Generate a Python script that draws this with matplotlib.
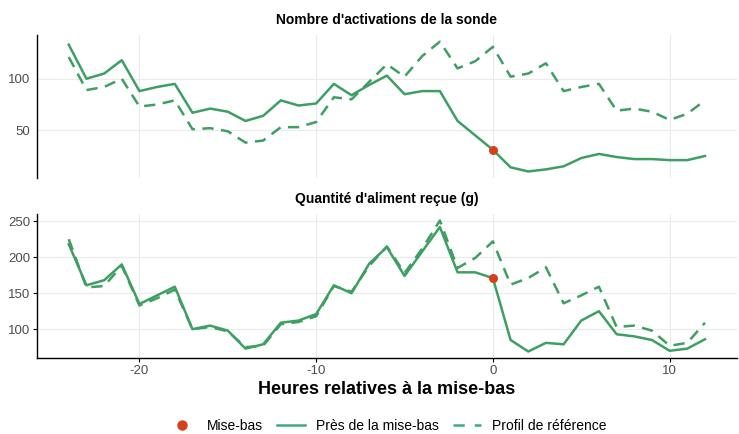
import matplotlib
matplotlib.use("Agg")
import matplotlib.pyplot as plt
from matplotlib.lines import Line2D
import numpy as np

plt.rcParams['font.family'] = ['Liberation Sans', 'DejaVu Sans']

hours = list(range(-24, 13))

act_pres = [133, 100, 105, 118, 88, 92, 95, 67, 71, 68, 59, 64, 79, 74, 76, 95, 84,
            94, 103, 85, 88, 88, 59, 45, 31, 14, 10, 12, 15, 23, 27, 24, 22, 22, 21, 21, 25]
act_ref = [121, 89, 92, 100, 73, 75, 79, 51, 52, 49, 38, 40, 53, 53, 58, 82, 80,
           97, 114, 102, 122, 136, 110, 117, 131, 102, 105, 115, 88, 92, 95, 69, 71, 68, 60, 66, 79]

alim_pres = [218, 161, 168, 190, 135, 147, 159, 100, 105, 98, 73, 79, 109, 112, 121, 161, 150,
             191, 214, 174, 208, 242, 179, 179, 171, 85, 69, 81, 79, 112, 125, 93, 90, 85, 70, 73, 86]
alim_ref = [225, 158, 160, 188, 133, 143, 155, 100, 103, 97, 75, 77, 107, 110, 118, 160, 152,
            188, 215, 178, 212, 251, 185, 199, 222, 162, 171, 186, 136, 147, 159, 103, 105, 98, 77, 81, 109]

birth_hour = 0
titles = ["Nombre d'activations de la sonde", "Quantité d'aliment reçue (g)"]
yticks_top = [50, 100]
yticks_bot = [100, 150, 200, 250]
xticks = [-20, -10, 0, 10]

green = '#3d9f62'
leg_green = '#3daa7e'
red = '#d4401c'
grid_c = '#ebebeb'
tick_c = '#4d4d4d'

fig = plt.figure(figsize=(7.39, 4.34), dpi=100)
ax1 = fig.add_axes([0.050, 0.590, 0.947, 0.329])
ax2 = fig.add_axes([0.050, 0.175, 0.947, 0.332])

def style(ax, yt, show_x):
    for s in ['top', 'right']:
        ax.spines[s].set_visible(False)
    ax.spines['left'].set_color('black')
    ax.spines['left'].set_linewidth(1.0)
    if show_x:
        ax.spines['bottom'].set_color('black')
        ax.spines['bottom'].set_linewidth(1.0)
        ax.set_xticks(xticks)
        ax.set_xticklabels([str(v) for v in xticks])
        ax.tick_params(axis='x', length=3, color='black', labelsize=9.5, labelcolor=tick_c, pad=2)
    else:
        ax.spines['bottom'].set_visible(False)
        ax.set_xticks(xticks)
        ax.tick_params(axis='x', length=0, labelbottom=False)
    ax.set_yticks(yt)
    ax.tick_params(axis='y', length=3 if show_x else 0, color='black', labelsize=9.5,
                   labelcolor=tick_c, pad=2 if show_x else 5)
    ax.grid(True, color=grid_c, linewidth=0.8)
    ax.set_axisbelow(True)
    ax.set_xlim(-25.8, 13.8)

for ax, pres, ref, title, yt, showx in [(ax1, act_pres, act_ref, titles[0], yticks_top, False),
                                          (ax2, alim_pres, alim_ref, titles[1], yticks_bot, True)]:
    ax.plot(hours, ref, color=green, lw=1.8, dashes=(4.5, 3))
    ax.plot(hours, pres, color=green, lw=1.8)
    idx = hours.index(birth_hour)
    ax.scatter([birth_hour], [pres[idx]], color=red, s=30, zorder=5)
    style(ax, yt, showx)
    ax.set_title(title, fontsize=10, fontweight='bold', pad=8)

lo = min(min(act_pres), min(act_ref)); hi = max(max(act_pres), max(act_ref))
ax1.set_ylim(lo - 0.05 * (hi - lo), hi + 0.05 * (hi - lo))
lo = min(min(alim_pres), min(alim_ref)); hi = max(max(alim_pres), max(alim_ref))
ax2.set_ylim(lo - 0.05 * (hi - lo), hi + 0.05 * (hi - lo))

ax2.set_xlabel("Heures relatives à la mise-bas", fontsize=13, fontweight='bold', labelpad=3)

handles = [Line2D([], [], marker='o', color=red, linestyle='none', markersize=6.5),
           Line2D([], [], color=leg_green, lw=1.8),
           Line2D([], [], color=leg_green, lw=1.8, dashes=(4.5, 4))]
fig.legend(handles, ["Mise-bas", "Près de la mise-bas", "Profil de référence"],
           loc='center', bbox_to_anchor=(0.524, 0.018), ncol=3, frameon=False,
           fontsize=10, handlelength=2.0, columnspacing=1.0, handletextpad=0.8,
           borderaxespad=0)

fig.savefig('out.png', dpi=100)
